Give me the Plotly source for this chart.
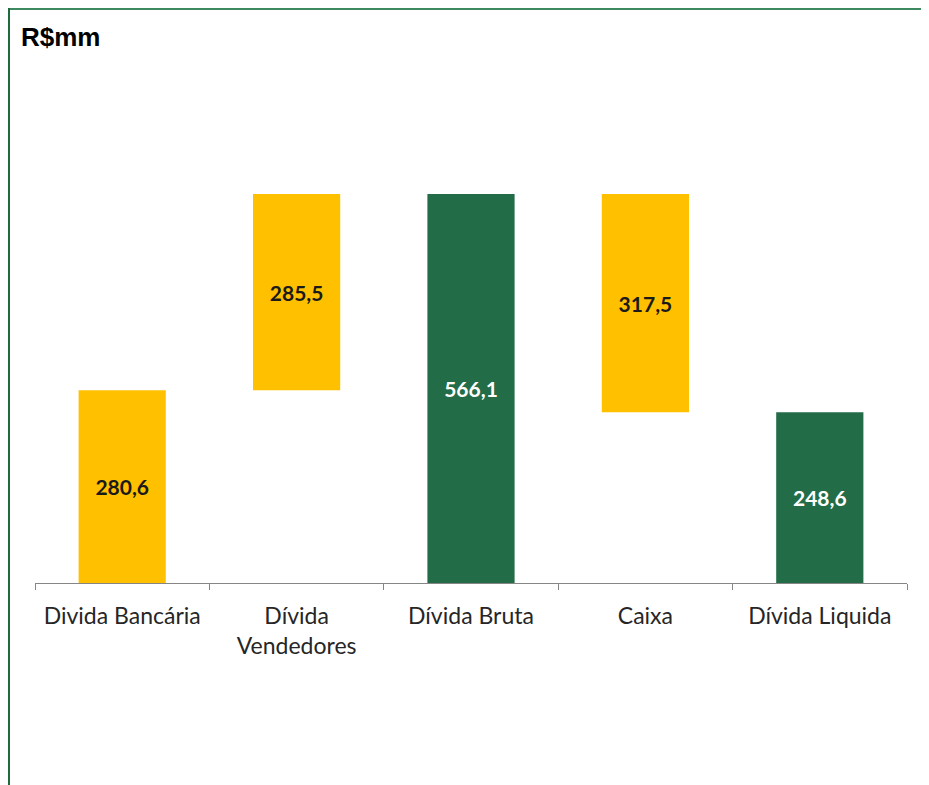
import plotly.graph_objects as go

categories = ["Divida Bancária", "Dívida<br>Vendedores", "Dívida Bruta", "Caixa", "Dívida Liquida"]
values = [280.6, 285.5, 566.1, 317.5, 248.6]
bases = [0, 280.6, 0, 248.6, 0]
labels = ["280,6", "285,5", "566,1", "317,5", "248,6"]

YELLOW = "#FFC000"
GREEN = "#236C48"
colors = [YELLOW, YELLOW, GREEN, YELLOW, GREEN]
label_colors = ["#1A1A1A", "#1A1A1A", "#FFFFFF", "#1A1A1A", "#FFFFFF"]

fig = go.Figure()
fig.add_trace(go.Bar(
    x=categories, y=values, base=bases,
    marker=dict(color=colors, line=dict(width=0)),
    width=0.5,
    text=["<b>%s</b>" % t for t in labels], textposition="inside", insidetextanchor="middle",
    textfont=dict(family="Lato", size=21, color=label_colors),
    textangle=0,
    hoverinfo="skip",
))

# figure geometry (pixels; the page body adds an 8px offset)
W, H = 929, 785
L, R, T, B = 27, 30, 94, 210
pw, ph = W - L - R, H - T - B

def px(x):
    return (x - L) / pw

def py(y):
    return (H - B - y) / ph

shapes = [
    dict(type="line", xref="paper", yref="paper", x0=px(0), x1=px(W), y0=py(1), y1=py(1),
         line=dict(color="#3E8A60", width=2)),
    dict(type="line", xref="paper", yref="paper", x0=px(1), x1=px(1), y0=py(0), y1=py(H),
         line=dict(color="#1F6B3E", width=2)),
]

fig.update_layout(
    width=W, height=H,
    margin=dict(l=L, r=R, t=T, b=B),
    paper_bgcolor="white", plot_bgcolor="white",
    showlegend=False,
    shapes=shapes,
    annotations=[dict(text="<b>R$mm</b>", xref="paper", yref="paper", x=px(11), y=py(29),
                      xanchor="left", yanchor="middle", showarrow=False,
                      font=dict(family="Liberation Sans, Arial", size=26, color="black"))],
    xaxis=dict(
        type="category", range=[-0.5, 4.5], tickson="boundaries", ticks="outside",
        ticklen=6, tickcolor="#868686", tickwidth=1.3,
        showline=True, linecolor="#868686", linewidth=1.3,
        showgrid=False, zeroline=False,
        ticklabelstandoff=12,
        tickfont=dict(family="Lato", size=23, color="#262626"),
        fixedrange=True,
    ),
    yaxis=dict(range=[0, 700], visible=False, showgrid=False, zeroline=False, fixedrange=True),
    bargap=0.5,
)

fig.write_html("out.html")
